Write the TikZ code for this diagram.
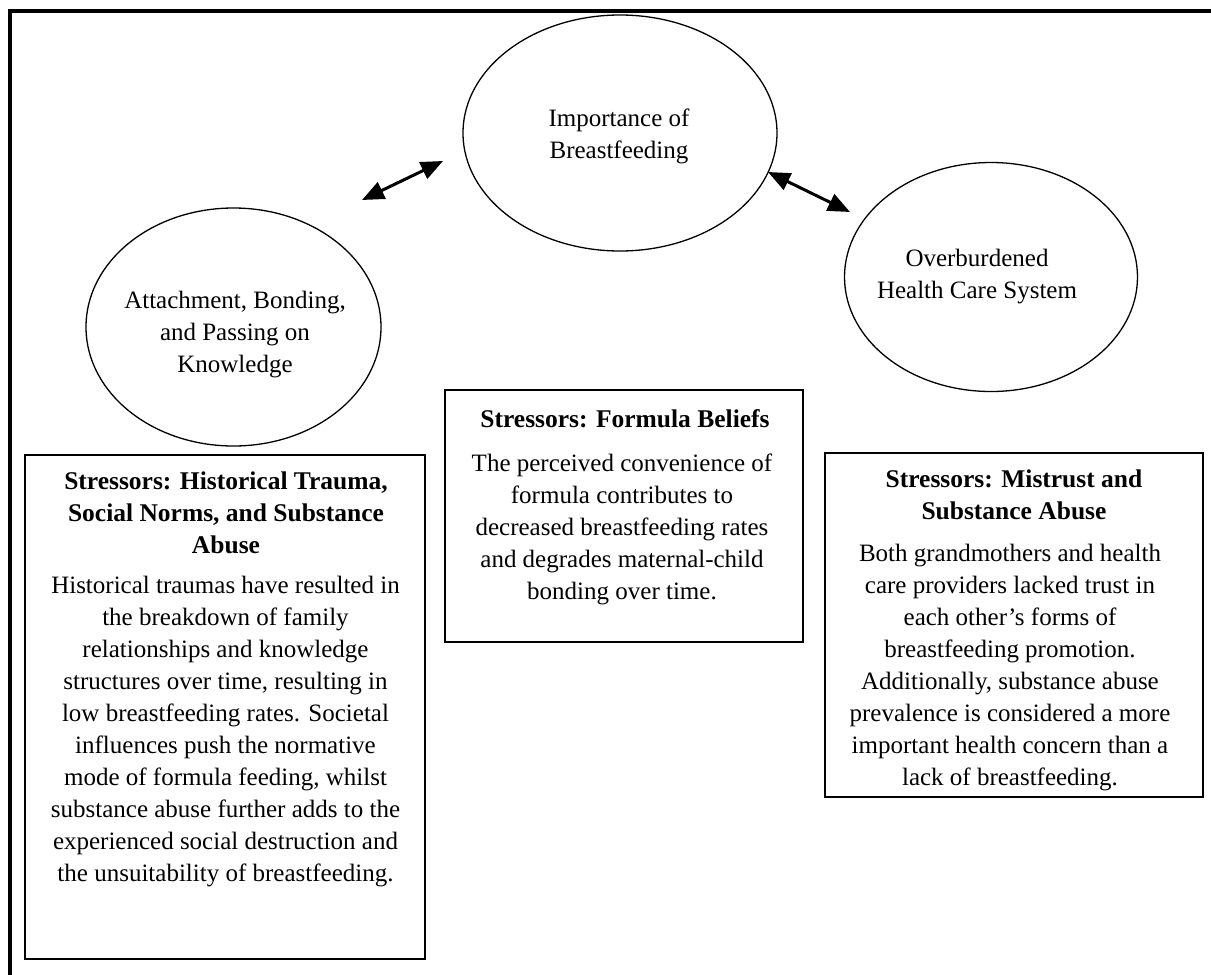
\documentclass[tikz,border=0pt]{standalone}
\usepackage{fontspec}
\setmainfont{Liberation Serif}
\usetikzlibrary{shapes.geometric,arrows.meta}
\begin{document}
\begin{tikzpicture}[x=1pt,y=-1pt,
  oval/.style={draw,ellipse,line width=1.3pt,inner sep=0pt},
  boxframe/.style={draw,rectangle,line width=1.6pt,inner sep=0pt},
  txt/.style={anchor=north,align=center,inner sep=0pt,font=\fontsize{25}{32}\selectfont},
  head/.style={anchor=north,align=center,inner sep=0pt,font=\fontsize{25.5}{32}\selectfont\bfseries},
  dbl/.style={{Triangle[length=22pt,width=18pt]}-{Triangle[length=22pt,width=18pt]},line width=3pt}]
\useasboundingbox (0,0) rectangle (1211,975);
\fill[white] (0,0) rectangle (1211,975);
\draw[line width=4pt] (10,975) -- (10,11) -- (1211,11);

% ellipses
\node[oval,minimum width=314pt,minimum height=236pt] (imp) at (620,133) {};
\node[oval,minimum width=295pt,minimum height=238pt] (att) at (233.5,327) {};
\node[oval,minimum width=293pt,minimum height=229pt] (ovr) at (991,277) {};
\node[txt] (impt) at (619,109) {Importance of\\Breastfeeding};
\node[txt] (attt) at (235,291) {Attachment, Bonding,\\and Passing on\\Knowledge};
\node[txt] (ovrt) at (977,249) {Overburdened\\Health Care System};

% arrows
\coordinate (a1) at (362,200);
\coordinate (a2) at (443,161);
\coordinate (b1) at (768,172);
\coordinate (b2) at (850,212);
\draw[dbl] (a1) -- (a2);
\draw[dbl] (b1) -- (b2);

% boxes
\node[boxframe,minimum width=400pt,minimum height=504pt] (lbox) at (225,707) {};
\node[boxframe,minimum width=358pt,minimum height=252pt] (mbox) at (624,516) {};
\node[boxframe,minimum width=378pt,minimum height=344pt] (rbox) at (1014,625) {};

\node[head] (lhead) at (226,472) {Stressors: Historical Trauma,\\Social Norms, and Substance\\Abuse};
\node[txt] (lbody) at (225.5,576) {Historical traumas have resulted in\\the breakdown of family\\relationships and knowledge\\structures over time, resulting in\\low breastfeeding rates. Societal\\influences push the normative\\mode of formula feeding, whilst\\substance abuse further adds to the\\experienced social destruction and\\the unsuitability of breastfeeding.};

\node[head] (mhead) at (625,409) {Stressors: Formula Beliefs};
\node[txt] (mbody) at (622,454) {The perceived convenience of\\formula contributes to\\decreased breastfeeding rates\\and degrades maternal-child\\bonding over time.};

\node[head] (rhead) at (1014,470) {Stressors: Mistrust and\\Substance Abuse};
\node[txt] (rbody) at (1010,544) {Both grandmothers and health\\care providers lacked trust in\\each other’s forms of\\breastfeeding promotion.\\Additionally, substance abuse\\prevalence is considered a more\\important health concern than a\\lack of breastfeeding.};
\end{tikzpicture}
\end{document}
